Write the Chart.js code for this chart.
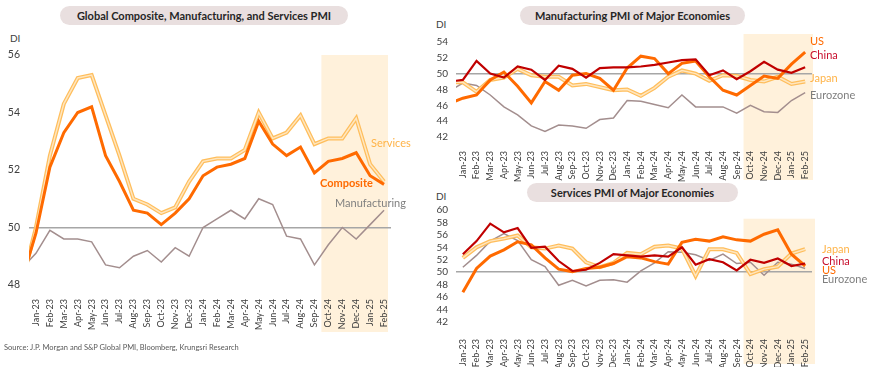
<!DOCTYPE html>
<html>
<head>
<meta charset="utf-8">
<script src="https://cdn.jsdelivr.net/npm/chart.js@4.4.1/dist/chart.umd.min.js"></script>
<style>
  body { margin: 0; width: 870px; height: 367px; position: relative; background: #fff; font-family: Lato, sans-serif; overflow: hidden; }
  canvas { position: absolute; }
  .pill { position: absolute; background: #E9DFDF; border-radius: 10px; font-weight: bold; font-size: 11px; color: #262626; text-align: center; height: 19px; line-height: 19px; }
  .lbl { position: absolute; font-size: 11px; line-height: 12px; white-space: nowrap; }
  .di { position: absolute; font-size: 10px; color: #404040; }
  .src { position: absolute; left: 4px; top: 343px; font-size: 7.5px; color: #595959; }
</style>
</head>
<body>
<div class="pill" style="left:60px;top:6px;width:288px">Global Composite, Manufacturing, and Services PMI</div>
<div class="pill" style="left:520px;top:6px;width:225px">Manufacturing PMI of Major Economies</div>
<div class="pill" style="left:527px;top:183px;width:211px">Services PMI of Major Economies</div>
<div class="di" style="left:10px;top:32px">DI</div>
<div class="di" style="left:436px;top:18px">DI</div>
<div class="di" style="left:436px;top:190px">DI</div>

<canvas id="globalChart" width="430" height="367" style="left:0;top:0"></canvas>
<canvas id="mfgChart" width="440" height="185" style="left:430px;top:0"></canvas>
<canvas id="svcChart" width="440" height="187" style="left:430px;top:180px"></canvas>

<div class="lbl" style="left:371px;top:137px;color:#FFB347">Services</div>
<div class="lbl" style="left:320px;top:177px;color:#FF6A00;font-weight:bold">Composite</div>
<div class="lbl" style="left:335px;top:197px;color:#7F7F7F">Manufacturing</div>

<div class="lbl" style="left:810px;top:35px;color:#FF6A00">US</div>
<div class="lbl" style="left:810px;top:49px;color:#C8102E">China</div>
<div class="lbl" style="left:810px;top:72px;color:#FFB347">Japan</div>
<div class="lbl" style="left:810px;top:89px;color:#7F7F7F">Eurozone</div>

<div class="lbl" style="left:822px;top:243px;color:#FFB347">Japan</div>
<div class="lbl" style="left:822px;top:255px;color:#C8102E">China</div>
<div class="lbl" style="left:822px;top:264px;color:#FF6A00">US</div>
<div class="lbl" style="left:822px;top:273px;color:#7F7F7F">Eurozone</div>

<div class="src">Source: J.P. Morgan and S&amp;P Global PMI, Bloomberg, Krungsri Research</div>

<script>
// months shown on the axis, plus the month before (its line runs in from the left edge)
const prevMonth = 'Dec-22';
const months = ['Jan-23','Feb-23','Mar-23','Apr-23','May-23','Jun-23','Jul-23','Aug-23','Sep-23','Oct-23','Nov-23','Dec-23',
  'Jan-24','Feb-24','Mar-24','Apr-24','May-24','Jun-24','Jul-24','Aug-24','Sep-24','Oct-24','Nov-24','Dec-24',
  'Jan-25','Feb-25'];

// global PMI, Dec-22 .. Feb-25
const globalComposite = [48.2, 49.8, 52.1, 53.3, 54.0, 54.2, 52.5, 51.6, 50.6, 50.5, 50.1, 50.5, 51.0,
  51.8, 52.1, 52.2, 52.4, 53.7, 52.9, 52.5, 52.8, 51.9, 52.3, 52.4, 52.6, 51.8, 51.5];
const globalServices = [48.1, 50.0, 52.5, 54.3, 55.2, 55.3, 53.9, 52.5, 51.0, 50.8, 50.5, 50.7, 51.6,
  52.3, 52.4, 52.4, 52.7, 54.0, 53.1, 53.3, 53.9, 52.9, 53.1, 53.1, 53.8, 52.2, 51.6];
const globalManufacturing = [48.6, 49.1, 49.9, 49.6, 49.6, 49.5, 48.7, 48.6, 49.0, 49.2, 48.8, 49.3, 49.0,
  50.0, 50.3, 50.6, 50.3, 51.0, 50.8, 49.7, 49.6, 48.7, 49.4, 50.0, 49.6, 50.1, 50.6];

// manufacturing PMI, Dec-22 .. Feb-25
const mfgUS = [46.2, 46.9, 47.3, 49.2, 50.2, 48.4, 46.3, 49.0, 47.9, 49.8, 50.0, 49.4, 47.9,
  50.7, 52.2, 51.9, 50.0, 51.3, 51.6, 49.6, 47.9, 47.3, 48.5, 49.7, 49.4, 51.2, 52.7];
const mfgChina = [49.0, 49.2, 51.6, 50.0, 49.5, 50.9, 50.5, 49.2, 51.0, 50.6, 49.5, 50.7, 50.8,
  50.8, 50.9, 51.1, 51.4, 51.7, 51.8, 49.8, 50.4, 49.3, 50.3, 51.5, 50.5, 50.1, 50.8];
const mfgJapan = [48.9, 48.9, 47.7, 49.2, 49.5, 50.6, 49.8, 49.6, 49.6, 48.5, 48.7, 48.3, 47.9,
  48.0, 47.2, 48.2, 49.6, 50.4, 50.0, 49.1, 49.8, 49.7, 49.2, 49.0, 49.6, 48.7, 49.0];
const mfgEurozone = [47.8, 48.8, 48.5, 47.3, 45.8, 44.8, 43.4, 42.7, 43.5, 43.4, 43.1, 44.2, 44.4,
  46.6, 46.5, 46.1, 45.7, 47.3, 45.8, 45.8, 45.8, 45.0, 46.0, 45.2, 45.1, 46.6, 47.6];

// services PMI, Jan-23 .. Feb-25
const svcUS = [46.8, 50.6, 52.6, 53.6, 54.9, 54.4, 52.3, 50.5, 50.1, 50.6, 50.8, 51.4,
  52.5, 52.3, 51.7, 51.3, 54.8, 55.3, 55.0, 55.7, 55.2, 55.0, 56.1, 56.8, 52.9, 51.0];
const svcChina = [52.9, 55.0, 57.8, 56.4, 57.1, 53.9, 54.1, 51.8, 50.2, 50.4, 51.5, 52.9,
  52.7, 52.5, 52.7, 52.5, 54.0, 51.2, 52.1, 51.6, 50.3, 52.0, 51.5, 52.2, 51.0, 51.4];
const svcJapan = [52.3, 54.0, 55.0, 55.4, 55.9, 54.0, 53.8, 54.3, 53.8, 51.6, 50.8, 51.5,
  53.1, 52.9, 54.1, 54.3, 53.8, 49.4, 53.7, 53.7, 53.1, 49.7, 50.5, 50.9, 53.0, 53.7];
const svcEurozone = [50.8, 52.7, 55.0, 56.2, 55.1, 52.0, 50.9, 47.9, 48.7, 47.8, 48.7, 48.8,
  48.4, 50.2, 51.5, 53.3, 53.2, 52.8, 51.9, 52.9, 51.4, 51.6, 49.5, 51.6, 51.3, 50.6];

const shadeFrom = 'Oct-24';

Chart.defaults.font.family = 'Lato, sans-serif';
Chart.defaults.color = '#404040';

// shaded block for the recent months
const shadePlugin = {
  id: 'shade',
  beforeDraw(chart, args, opts) {
    const { ctx, chartArea, scales: { x, y } } = chart;
    const i = chart.data.labels.indexOf(opts.from);
    const step = x.getPixelForValue(i) - x.getPixelForValue(i - 1);
    const left = x.getPixelForValue(i) - step / 2;
    const top = y.getPixelForValue(opts.top);
    ctx.save();
    ctx.fillStyle = '#FFF1DB';
    ctx.fillRect(left, top, chartArea.right + (opts.extra || 0) - left, opts.bottom - top);
    ctx.restore();
  }
};

function line(data, color, width) {
  return { data: data, borderColor: color, borderWidth: width, pointRadius: 0, tension: 0, fill: false };
}

function makeChart(id, labels, datasets, o) {
  return new Chart(document.getElementById(id), {
    type: 'line',
    data: { labels: labels, datasets: datasets },
    plugins: [shadePlugin],
    options: {
      responsive: false,
      animation: false,
      layout: { padding: { top: o.top, right: o.right, left: 0, bottom: 0 } },
      plugins: {
        legend: { display: false },
        tooltip: { enabled: false },
        shade: o.shade
      },
      scales: {
        x: {
          type: 'category',
          min: o.xMin,
          offset: true,
          grid: { display: false },
          border: { display: false },
          ticks: { autoSkip: false, minRotation: 90, maxRotation: 90, padding: o.xPad, font: { size: 9 }, color: '#404040' },
          afterFit: s => { s.height = o.xHeight; }
        },
        y: {
          min: o.yMin,
          max: o.yMax,
          border: { display: false },
          grid: {
            drawTicks: false,
            lineWidth: 1.5,
            color: c => (c.tick && c.tick.value === 50) ? '#A6A6A6' : 'rgba(0,0,0,0)'
          },
          ticks: { stepSize: 2, autoSkip: false, includeBounds: false, padding: o.yPad, font: { size: o.yFont }, color: '#404040' },
          afterFit: s => { s.width = o.yWidth; }
        }
      }
    }
  });
}

const withPrev = [prevMonth].concat(months);

makeChart('globalChart', withPrev, [
  line(globalComposite, '#FF6A00', 3),
  line(globalServices, '#FFE6BF', 1.5),
  line(globalServices, '#FFBE5C', 4),
  line(globalManufacturing, '#A38E8E', 1.5)
], { top: 55, right: 39, xHeight: 82, yWidth: 29, yMin: 48, yMax: 56, xMin: months[0], xPad: 6, yPad: 9, yFont: 10.5,
     shade: { from: shadeFrom, top: 56, bottom: 332, extra: -3 } });

makeChart('mfgChart', withPrev, [
  line(mfgChina, '#C00000', 2.2),
  line(mfgUS, '#FF6A00', 3),
  line(mfgJapan, '#FFE6BF', 1.5),
  line(mfgJapan, '#FFBE5C', 4),
  line(mfgEurozone, '#A38E8E', 1.5)
], { top: 34, right: 58, xHeight: 48, yWidth: 26, yMin: 42, yMax: 55, xMin: months[0], xPad: 6, yPad: 8, yFont: 10,
     shade: { from: shadeFrom, top: 55, bottom: 180, extra: 1 } });

makeChart('svcChart', months, [
  line(svcChina, '#C00000', 2.2),
  line(svcUS, '#FF6A00', 3),
  line(svcJapan, '#FFE6BF', 1.5),
  line(svcJapan, '#FFBE5C', 4),
  line(svcEurozone, '#A38E8E', 1.5)
], { top: 30, right: 58, xHeight: 45, yWidth: 26, yMin: 42, yMax: 60, xMin: undefined, xPad: 9, yPad: 8, yFont: 10,
     shade: { from: shadeFrom, top: 58.6, bottom: 184, extra: 3 } });
</script>
</body>
</html>
